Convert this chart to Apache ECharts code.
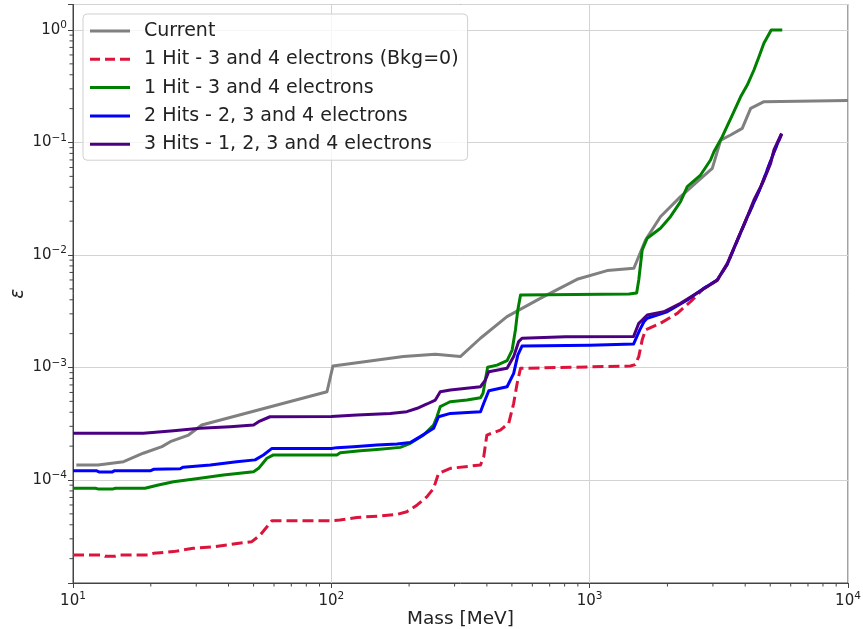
<!DOCTYPE html>
<html>
<head>
<meta charset="utf-8">
<script src="https://cdn.jsdelivr.net/npm/echarts@6/dist/echarts.min.js"></script>
<style>
  html, body { margin: 0; padding: 0; background: #fff; }
  #chart { width: 863px; height: 629px; }
</style>
</head>
<body>
<div id="chart"></div>
<script>
// Sensitivity curves: coupling ε versus mass (MeV), log-log.
const currentMass = [10.3, 12.5, 15.7, 18.7, 22.1, 23.8, 28.0, 31.5, 96.2, 101.4, 190, 252.7, 315.8, 377.6, 478.6, 644, 894, 1169, 1483, 1645, 1879, 2248, 2609, 2983, 3215, 3512, 3896, 4200, 4730, 10000];
const currentEps = [1.36e-4, 1.36e-4, 1.455e-4, 1.73e-4, 1.98e-4, 2.19e-4, 2.51e-4, 3.08e-4, 6.09e-4, 1.03e-3, 1.25e-3, 1.31e-3, 1.25e-3, 1.82e-3, 2.83e-3, 4.12e-3, 6.08e-3, 7.27e-3, 7.62e-3, 1.36e-2, 2.19e-2, 3.3e-2, 4.49e-2, 5.89e-2, 0.105, 0.1166, 0.1336, 0.201, 0.2306, 0.236];

const bkg0Mass = [10, 13, 13.3, 14.5, 15, 19.5, 20.5, 24.5, 29.2, 35, 41.8, 49.2, 53, 58.9, 100, 108, 125.7, 154.6, 179.6, 196, 215, 234.6, 248.8, 260, 289, 378, 389, 400, 451, 486, 508, 524, 540, 1438, 1500, 1549, 1597, 1645, 1880, 2184, 2458, 2768, 3118, 3412, 3727, 4074, 4592, 5168, 5532];
const bkg0Eps = [2.15e-5, 2.15e-5, 2.1e-5, 2.1e-5, 2.15e-5, 2.15e-5, 2.23e-5, 2.31e-5, 2.47e-5, 2.55e-5, 2.70e-5, 2.83e-5, 3.24e-5, 4.35e-5, 4.35e-5, 4.41e-5, 4.65e-5, 4.79e-5, 4.95e-5, 5.23e-5, 6.0e-5, 7.11e-5, 8.44e-5, 1.146e-4, 1.27e-4, 1.36e-4, 1.61e-4, 2.51e-4, 2.78e-4, 3.19e-4, 4.81e-4, 7.23e-4, 9.84e-4, 1.03e-3, 1.06e-3, 1.25e-3, 1.76e-3, 2.16e-3, 2.47e-3, 3.03e-3, 3.85e-3, 5.06e-3, 5.95e-3, 8.3e-3, 1.34e-2, 2.16e-2, 4.0e-2, 8.2e-2, 0.118];

const hit1Mass = [10, 12.2, 12.6, 14.2, 14.6, 19, 21.4, 24.5, 31, 38.2, 50, 52.3, 56.3, 59.7, 105, 108.3, 129.4, 150.2, 184.9, 202.2, 227.5, 248.8, 256.4, 264, 280.5, 289, 335, 378, 386.6, 394.6, 402.8, 438, 479, 501, 516, 527, 540, 1420, 1520, 1549, 1597, 1670, 1880, 2054, 2248, 2387, 2687, 2937, 3027, 3261, 3565, 3840, 4074, 4324, 4522, 4725, 5045, 5566];
const hit1Eps = [8.44e-5, 8.44e-5, 8.3e-5, 8.3e-5, 8.44e-5, 8.44e-5, 9.03e-5, 9.66e-5, 1.035e-4, 1.108e-4, 1.185e-4, 1.27e-4, 1.56e-4, 1.67e-4, 1.67e-4, 1.75e-4, 1.82e-4, 1.87e-4, 1.95e-4, 2.12e-4, 2.51e-4, 3.08e-4, 3.65e-4, 4.49e-4, 4.81e-4, 4.97e-4, 5.14e-4, 5.39e-4, 5.89e-4, 7.74e-4, 1.004e-3, 1.05e-3, 1.15e-3, 1.43e-3, 2.16e-3, 3.25e-3, 4.41e-3, 4.5e-3, 4.6e-3, 6.0e-3, 1.107e-2, 1.41e-2, 1.73e-2, 2.19e-2, 2.98e-2, 4.05e-2, 5.14e-2, 6.99e-2, 8.28e-2, 0.1126, 0.1755, 0.255, 0.324, 0.441, 0.579, 0.761, 1.0, 1.0];

const hit2Mass = [10, 12.3, 12.6, 14.2, 14.5, 20, 20.5, 26, 26.7, 34, 43, 50.7, 54.6, 58.9, 100, 105, 121.9, 150, 179.6, 202, 221, 248.8, 260, 289, 378, 389, 407, 479, 508, 527, 547, 1000, 1480, 1563, 1622, 1670, 1995, 2387, 2768, 3118, 3412, 3727, 4074, 4592, 5168, 5532];
const hit2Eps = [1.21e-4, 1.21e-4, 1.18e-4, 1.18e-4, 1.21e-4, 1.21e-4, 1.245e-4, 1.26e-4, 1.30e-4, 1.36e-4, 1.455e-4, 1.51e-4, 1.67e-4, 1.91e-4, 1.91e-4, 1.94e-4, 1.98e-4, 2.05e-4, 2.09e-4, 2.15e-4, 2.43e-4, 2.88e-4, 3.65e-4, 3.91e-4, 4.05e-4, 4.81e-4, 6.22e-4, 6.75e-4, 8.87e-4, 1.29e-3, 1.55e-3, 1.58e-3, 1.62e-3, 2.16e-3, 2.55e-3, 2.74e-3, 3.13e-3, 3.98e-3, 5.06e-3, 6.0e-3, 8.3e-3, 1.34e-2, 2.17e-2, 4.0e-2, 8.2e-2, 0.119];

const hit3Mass = [10, 18.7, 19, 24.5, 31, 40.6, 50, 52.3, 57.9, 100, 125.7, 169, 196, 215, 234.6, 252.7, 264, 289, 378, 394.6, 407, 479, 508, 531, 547, 806, 1480, 1549, 1597, 1670, 1935, 2248, 2530, 2851, 3118, 3412, 3727, 4074, 4324, 4592, 4725, 5018, 5168, 5532];
const hit3Eps = [2.6e-4, 2.6e-4, 2.69e-4, 2.74e-4, 2.88e-4, 2.98e-4, 3.08e-4, 3.30e-4, 3.65e-4, 3.66e-4, 3.78e-4, 3.91e-4, 4.05e-4, 4.34e-4, 4.74e-4, 5.14e-4, 6.09e-4, 6.31e-4, 6.75e-4, 7.74e-4, 9.18e-4, 9.84e-4, 1.25e-3, 1.70e-3, 1.82e-3, 1.88e-3, 1.89e-3, 2.47e-3, 2.64e-3, 2.93e-3, 3.13e-3, 3.72e-3, 4.41e-3, 5.23e-3, 6.0e-3, 8.43e-3, 1.36e-2, 2.19e-2, 3.08e-2, 4.05e-2, 4.64e-2, 6.53e-2, 8.58e-2, 0.1207];

const seriesNames = [
  'Current',
  '1 Hit - 3 and 4 electrons (Bkg=0)',
  '1 Hit - 3 and 4 electrons',
  '2 Hits - 2, 3 and 4 electrons',
  '3 Hits - 1, 2, 3 and 4 electrons'
];

// Axis ranges and minor tick positions
const xRange = [10, 10000];
const yRange = [1.215e-5, 1.685];
const xMinorTicks = [20, 30, 40, 50, 60, 70, 80, 90, 200, 300, 400, 500, 600, 700, 800, 900, 2000, 3000, 4000, 5000, 6000, 7000, 8000, 9000];
const yMinorTicks = [2e-5, 3e-5, 4e-5, 5e-5, 6e-5, 7e-5, 8e-5, 9e-5,
  2e-4, 3e-4, 4e-4, 5e-4, 6e-4, 7e-4, 8e-4, 9e-4,
  2e-3, 3e-3, 4e-3, 5e-3, 6e-3, 7e-3, 8e-3, 9e-3,
  2e-2, 3e-2, 4e-2, 5e-2, 6e-2, 7e-2, 8e-2, 9e-2,
  0.2, 0.3, 0.4, 0.5, 0.6, 0.7, 0.8, 0.9];

const zip = (xs, ys) => xs.map((x, i) => [x, ys[i]]);
const FONT = 'DejaVu Sans';

// Legend glyphs: a solid bar and a three-dash bar
const SOLID_ICON = 'path://M0,0h40v3h-40z';
const DASH_ICON = 'path://M0,0h10v3h-10zM15,0h10v3h-10zM30,0h10v3h-10z';

function isDecade(v) {
  const e = Math.log10(v);
  return Math.abs(e - Math.round(e)) < 1e-6;
}
function powLabel(v) {
  if (!isDecade(v)) return '';
  const e = Math.round(Math.log10(v));
  const s = e < 0 ? '\u2212' + Math.abs(e) : String(e);
  return '{b|10}{s|' + s + '}';
}
const powRich = {
  b: { fontFamily: FONT, fontSize: 15, color: '#222' },
  s: { fontFamily: FONT, fontSize: 10.5, color: '#222', padding: [0, 0, 9, 0] }
};

function lineSeries(name, data, color, type) {
  return {
    name: name,
    type: 'line',
    data: data,
    showSymbol: false,
    symbol: 'none',
    z: 3,
    lineStyle: { color: color, width: 3, type: type || 'solid', cap: 'butt', join: 'round' },
    itemStyle: { color: color }
  };
}

function tickSeries(name, data, isX) {
  return {
    name: name,
    type: 'custom',
    silent: true,
    clip: false,
    z: 5,
    data: data,
    renderItem: function (params, api) {
      const p = api.coord([api.value(0), api.value(1)]);
      const cs = params.coordSys;
      const shape = isX
        ? { x1: p[0], y1: cs.y + cs.height, x2: p[0], y2: cs.y + cs.height + 3.5 }
        : { x1: cs.x, y1: p[1], x2: cs.x - 3.5, y2: p[1] };
      return { type: 'line', shape: shape, style: { stroke: '#444', lineWidth: 1 } };
    }
  };
}

const chart = echarts.init(document.getElementById('chart'), null, { renderer: 'canvas' });
chart.setOption({
  animation: false,
  backgroundColor: '#fff',
  grid: {
    left: 73, right: 15, top: 4.5, bottom: 46,
    containLabel: false, outerBoundsMode: 'none',
    show: true, borderColor: '#444', borderWidth: 1, backgroundColor: 'transparent'
  },
  legend: {
    data: seriesNames.map((n, i) => ({ name: n, icon: i === 1 ? DASH_ICON : SOLID_ICON })),
    orient: 'vertical',
    left: 83,
    top: 14,
    padding: [7, 9, 6, 7],
    itemGap: 8.3,
    itemWidth: 40,
    itemHeight: 3,
    backgroundColor: 'rgba(255,255,255,0.8)',
    borderColor: '#d0d0d0',
    borderWidth: 1,
    borderRadius: 4,
    textStyle: { fontFamily: FONT, fontSize: 19, color: '#222', lineHeight: 20, padding: [0, 0, 0, 9] }
  },
  xAxis: {
    type: 'log',
    logBase: 10,
    min: xRange[0],
    max: xRange[1],
    name: 'Mass [MeV]',
    nameLocation: 'middle',
    nameGap: 27,
    nameMoveOverlap: false,
    nameTextStyle: { fontFamily: FONT, fontSize: 18.5, color: '#222' },
    axisLine: { show: true, lineStyle: { color: '#444', width: 1 } },
    axisTick: { show: true, length: 5, lineStyle: { color: '#444', width: 1 } },
    axisLabel: { margin: 8, formatter: powLabel, rich: powRich },
    splitLine: { show: true, lineStyle: { color: '#d3d3d3', width: 1 } },
    minorTick: { show: false },
    minorSplitLine: { show: false }
  },
  yAxis: {
    type: 'log',
    logBase: 10,
    min: yRange[0],
    max: yRange[1],
    name: '\u03b5',
    nameLocation: 'middle',
    nameRotate: 90,
    nameGap: 45,
    nameMoveOverlap: false,
    nameTextStyle: { fontFamily: FONT, fontSize: 18.5, color: '#222', fontStyle: 'italic' },
    axisLine: { show: true, lineStyle: { color: '#444', width: 1 } },
    axisTick: { show: true, length: 5, lineStyle: { color: '#444', width: 1 } },
    axisLabel: { margin: 6, formatter: powLabel, rich: powRich, showMinLabel: true, showMaxLabel: true },
    splitLine: { show: true, lineStyle: { color: '#d3d3d3', width: 1 } },
    minorTick: { show: false },
    minorSplitLine: { show: false }
  },
  series: [
    tickSeries('xMinor', xMinorTicks.map(v => [v, yRange[0]]), true),
    tickSeries('yMinor', yMinorTicks.map(v => [xRange[0], v]), false),
    lineSeries(seriesNames[0], zip(currentMass, currentEps), '#808080'),
    lineSeries(seriesNames[1], zip(bkg0Mass, bkg0Eps), '#dc143c', [11, 5]),
    lineSeries(seriesNames[2], zip(hit1Mass, hit1Eps), '#008000'),
    lineSeries(seriesNames[3], zip(hit2Mass, hit2Eps), '#0000ff'),
    lineSeries(seriesNames[4], zip(hit3Mass, hit3Eps), '#4b0082')
  ]
});
</script>
</body>
</html>
